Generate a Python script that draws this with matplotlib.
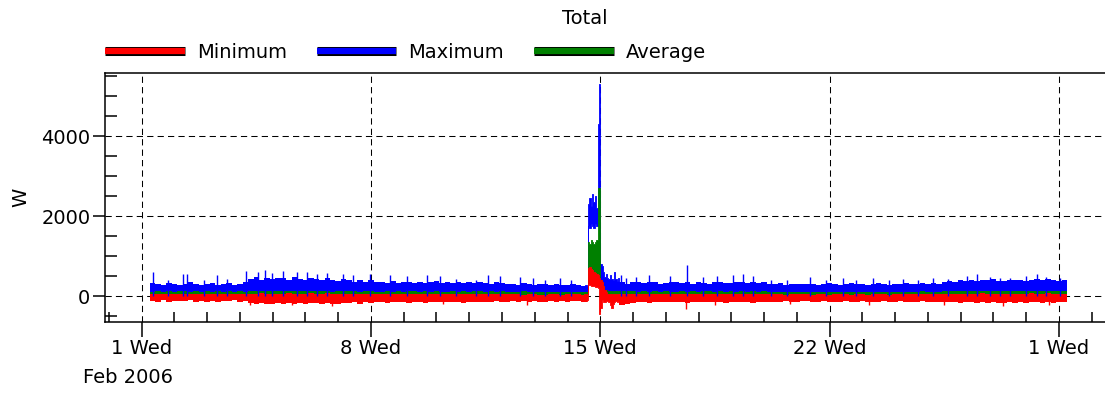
import numpy as np
import pandas as pd
import matplotlib
matplotlib.use("Agg")
import matplotlib.pyplot as plt
import matplotlib.dates as mdates
import matplotlib.patheffects as pe
from matplotlib.lines import Line2D
from matplotlib.ticker import MultipleLocator

# ---- data (W) ----
# 4-hour envelope of each series, Feb 1 06:00 .. Mar 1 06:00 (one row per day)
# zeros mark the Feb 14/15 surge window, drawn from the hourly arrays below
max_top = [
    320, 290, 270, 330, 300, 280,
    300, 340, 310, 270, 290, 330,
    280, 310, 330, 270, 300, 340,
    430, 470, 400, 460, 420, 450,
    450, 410, 470, 430, 400, 460,
    420, 400, 450, 410, 380, 430,
    390, 360, 400, 350, 390, 360,
    360, 330, 370, 320, 350, 340,
    330, 360, 320, 350, 370, 330,
    340, 320, 360, 330, 350, 320,
    350, 320, 310, 350, 330, 300,
    300, 280, 320, 290, 270, 310,
    290, 270, 310, 280, 270, 300,
    280, 260, 0, 0, 0, 0,
    0, 0, 350, 310, 340, 360,
    320, 340, 350, 310, 330, 340,
    340, 320, 350, 310, 340, 330,
    310, 340, 350, 320, 330, 350,
    350, 320, 360, 330, 340, 310,
    300, 320, 280, 310, 300, 290,
    290, 310, 280, 300, 320, 290,
    280, 300, 320, 290, 310, 280,
    300, 320, 290, 280, 310, 300,
    320, 290, 310, 330, 300, 320,
    310, 340, 370, 360, 390, 370,
    400, 380, 410, 390, 420, 380,
    370, 400, 390, 410, 380, 400,
    420, 390, 430, 410, 380, 400,
    400,
]
avg_top = [
    110, 120, 105, 115, 110, 120,
    115, 105, 120, 110, 115, 105,
    120, 110, 115, 105, 120, 110,
    125, 115, 120, 130, 115, 120,
    120, 130, 115, 125, 120, 115,
    125, 115, 120, 110, 125, 120,
    115, 120, 110, 120, 115, 110,
    110, 115, 105, 120, 110, 115,
    115, 110, 120, 105, 115, 110,
    110, 120, 110, 115, 105, 120,
    115, 105, 115, 110, 120, 105,
    110, 100, 115, 105, 110, 100,
    105, 110, 100, 110, 105, 100,
    105, 100, 0, 0, 0, 0,
    0, 0, 130, 120, 115, 110,
    115, 110, 120, 105, 115, 110,
    110, 120, 105, 115, 110, 120,
    115, 105, 120, 110, 115, 105,
    120, 110, 115, 105, 120, 110,
    105, 110, 100, 110, 105, 110,
    110, 100, 110, 105, 100, 110,
    105, 110, 100, 105, 110, 100,
    110, 105, 110, 100, 105, 110,
    105, 110, 105, 115, 105, 110,
    110, 115, 120, 115, 125, 120,
    125, 120, 130, 120, 125, 115,
    120, 125, 115, 125, 120, 130,
    125, 120, 130, 125, 120, 115,
    115,
]
min_top = [
    50, 40, 60, 45, 55, 40,
    45, 60, 40, 55, 50, 45,
    55, 45, 50, 60, 40, 50,
    60, 50, 65, 55, 60, 50,
    55, 65, 50, 60, 55, 65,
    60, 55, 65, 50, 60, 55,
    50, 60, 45, 55, 50, 60,
    45, 55, 40, 50, 45, 55,
    50, 40, 55, 45, 50, 40,
    45, 55, 40, 50, 45, 55,
    50, 40, 50, 45, 55, 40,
    40, 45, 35, 45, 40, 35,
    35, 45, 40, 35, 45, 40,
    40, 35, 0, 0, 0, 0,
    0, 0, 55, 50, 45, 40,
    45, 50, 40, 55, 45, 50,
    50, 40, 55, 45, 50, 45,
    45, 55, 40, 50, 45, 55,
    55, 45, 50, 40, 55, 45,
    40, 45, 35, 45, 40, 45,
    45, 35, 45, 40, 35, 45,
    40, 45, 35, 40, 45, 35,
    45, 40, 45, 35, 40, 45,
    40, 45, 40, 50, 40, 45,
    45, 50, 55, 50, 60, 55,
    60, 55, 65, 55, 60, 50,
    55, 60, 50, 60, 55, 65,
    60, 55, 65, 60, 55, 50,
    50,
]
min_bottom = [
    -120, -140, -110, -150, -130, -120,
    -130, -110, -150, -120, -140, -130,
    -140, -120, -130, -110, -150, -130,
    -180, -200, -170, -210, -190, -180,
    -190, -170, -210, -180, -200, -170,
    -180, -200, -170, -190, -210, -180,
    -170, -160, -190, -150, -170, -160,
    -150, -170, -140, -160, -150, -170,
    -160, -140, -170, -150, -160, -140,
    -150, -160, -140, -170, -150, -160,
    -140, -160, -150, -130, -160, -140,
    -130, -150, -120, -140, -130, -150,
    -140, -120, -150, -130, -140, -120,
    -130, -140, 0, 0, 0, 0,
    0, 0, -220, -200, -170, -150,
    -150, -170, -140, -160, -150, -140,
    -160, -140, -170, -150, -160, -150,
    -150, -160, -140, -170, -150, -160,
    -160, -150, -170, -140, -160, -150,
    -140, -150, -130, -150, -140, -130,
    -130, -150, -140, -130, -150, -140,
    -140, -130, -150, -140, -130, -150,
    -150, -140, -130, -150, -140, -130,
    -140, -150, -140, -130, -150, -140,
    -150, -140, -160, -150, -170, -160,
    -160, -170, -150, -180, -160, -170,
    -170, -160, -180, -150, -170, -160,
    -160, -180, -150, -170, -160, -150,
    -150,
]

# hourly envelope of the surge, Feb 14 12:00 .. Feb 15 14:00
ev_max_hi = [260, 280, 250, 2300, 2450, 2250, 2550, 2350, 2500, 2200, 4300, 5300, 800,
             760, 600, 480, 560, 450, 420, 520, 430, 400, 600, 420, 380, 450, 450]
ev_max_lo = [110, 110, 110, 1750, 1700, 1800, 1750, 1700, 1800, 1750, 2600, 2600, 300,
             250, 200, 160, 140, 120, 120, 115, 120, 110, 120, 115, 120, 110, 110]
ev_avg_hi = [110, 110, 110, 1350, 1300, 1400, 1350, 1300, 1350, 1400, 2700, 2700, 300,
             250, 200, 160, 140, 120, 120, 115, 120, 110, 120, 115, 120, 110, 110]
ev_min_hi = [40, 50, 40, 700, 720, 680, 650, 600, 580, 550, 520, 450, 400,
             350, 250, 150, 100, 60, 50, 40, 50, 40, 50, 40, 50, 40, 40]
ev_min_lo = [-120, -130, -110, 300, 280, 260, 250, 250, 230, 220, 200, -450, -300,
             -100, -160, -140, -120, -130, -150, -220, -300, -200, -160, -130, -150, -120, -120]

# short spikes (days after Feb 1 00:00, W)
max_spike_day = [0.35, 0.8, 1.27, 1.37, 1.9, 2.29, 2.6, 3.2, 3.56, 3.76, 3.97, 4.32, 4.73,
                 5.04, 5.34, 5.65, 6.15, 6.46, 6.97, 7.58, 8.09, 8.7, 9.1, 9.6, 10.2,
                 10.58, 10.94, 11.55, 11.95, 12.3, 12.77, 13.1, 14.62, 14.8, 15.1, 15.5,
                 16.13, 16.64, 17.14, 17.55, 18.06, 18.36, 18.67, 19.2, 19.7, 20.4, 20.9,
                 21.42, 21.8, 22.33, 22.8, 23.25, 23.7, 24.16, 24.6, 25.18, 25.49, 25.9,
                 26.2, 26.5, 27.01, 27.32, 27.62, 28.03]
max_spike_w = [600, 400, 560, 540, 410, 520, 420, 620, 600, 640, 580, 620, 590,
               600, 560, 580, 540, 520, 540, 520, 500, 520, 500, 420, 410,
               520, 500, 480, 460, 400, 450, 390, 520, 460, 480, 520,
               500, 780, 480, 500, 520, 540, 500, 400, 390, 470, 400,
               440, 390, 460, 400, 430, 390, 440, 430, 500, 540, 480,
               460, 460, 500, 540, 480, 450]
min_spike_day = [3.3, 4.6, 5.8, 9.2, 11.75, 16.63, 17.5, 19.8, 22.2, 24.5, 26.3, 27.7]
min_spike_w = [-230, -220, -240, -210, -230, -330, -220, -210, -220, -230, -240, -230]

tick_days = ["2006-02-01", "2006-02-08", "2006-02-15", "2006-02-22", "2006-03-01"]
tick_labels = ["1 Wed", "8 Wed", "15 Wed", "22 Wed", "1 Wed"]

t0 = pd.Timestamp("2006-02-01")
t4 = pd.date_range("2006-02-01 06:00", periods=len(max_top), freq="4h").to_numpy()
tev = pd.date_range("2006-02-14 12:00", periods=len(ev_max_hi), freq="h").to_numpy()
tmax = (t0 + pd.to_timedelta(max_spike_day, unit="D")).to_numpy()
tmin = (t0 + pd.to_timedelta(min_spike_day, unit="D")).to_numpy()

RED, BLUE, GREEN = "#ff0000", "#0000ff", "#008000"

plt.rcParams["font.family"] = ["DejaVu Sans"]
fig = plt.figure(figsize=(11.05, 3.93), dpi=100)
ax = fig.add_axes([105 / 1105, 71 / 393, 1005 / 1105, 249 / 393])

fk = dict(step="post", linewidth=0, antialiased=False)
ek = dict(step="post", linewidth=0.6)
# Maximum
ax.fill_between(t4, 0, max_top, color=BLUE, **fk)
ax.vlines(tmax, 0, max_spike_w, color=BLUE, lw=1.0)
ax.fill_between(tev, ev_max_lo, ev_max_hi, color=BLUE, **ek)
# Average
ax.fill_between(t4, min_top, avg_top, color=GREEN, **fk)
ax.fill_between(tev, ev_min_hi, ev_avg_hi, color=GREEN, **ek)
# Minimum
ax.fill_between(t4, min_bottom, min_top, color=RED, **fk)
ax.vlines(tmin, min_spike_w, 0, color=RED, lw=1.0)
ax.fill_between(tev, ev_min_lo, ev_min_hi, color=RED, **ek)

ax.set_ylim(-650, 5575)
ax.set_xlim(t0 - pd.Timedelta(days=1.118), t0 + pd.Timedelta(days=29.56))
ax.set_yticks([0, 2000, 4000])
ax.yaxis.set_minor_locator(MultipleLocator(500))
ax.set_xticks(pd.to_datetime(tick_days).to_numpy(), tick_labels)
ax.xaxis.set_minor_locator(mdates.DayLocator())

ax.tick_params(axis="both", which="major", direction="out", width=1.1,
               labelsize=14, colors="black")
ax.tick_params(axis="y", which="major", length=8.5, pad=2)
ax.tick_params(axis="x", which="major", length=10.5, pad=2)
ax.tick_params(axis="y", which="minor", direction="in", length=8.5, width=1.1)
ax.tick_params(axis="x", which="minor", direction="in", length=7.5, width=1.1)

ax.grid(True, which="major", color="black", linestyle=(0, (6, 4)), linewidth=0.75)
ax.set_axisbelow(True)
for s in ["left", "bottom", "top"]:
    ax.spines[s].set_linewidth(1.1)
ax.spines["right"].set_visible(False)

ax.set_ylabel("W", fontsize=14, labelpad=8)
ax.annotate("Feb 2006", xy=(pd.Timestamp(tick_days[0]), 0),
            xycoords=("data", "axes fraction"), xytext=(-14, -46),
            textcoords="offset pixels", ha="center", va="top", fontsize=14)

fig.text(585 / 1105, 1 - 19 / 393, "Total", ha="center", va="center", fontsize=14)

handles = []
for c in [RED, BLUE, GREEN]:
    handles.append(Line2D([], [], color=c, lw=4.5, solid_capstyle="butt",
                          path_effects=[pe.Stroke(linewidth=6.5, foreground="black"),
                                        pe.Normal()]))
fig.legend(handles, ["Minimum", "Maximum", "Average"], loc="center left",
           bbox_to_anchor=(105 / 1105, 1 - 52 / 393), ncol=3, frameon=False,
           fontsize=14, handlelength=4.1, handletextpad=0.62, columnspacing=1.54,
           borderpad=0, borderaxespad=0)

fig.savefig("out.png", dpi=100)
